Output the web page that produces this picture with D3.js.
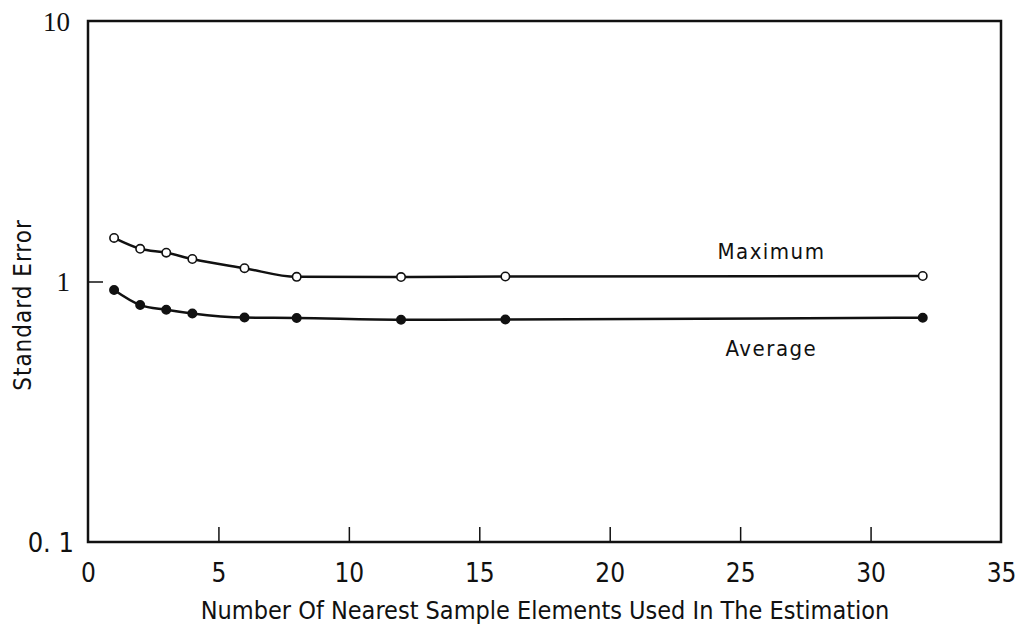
<!DOCTYPE html>
<html>
<head>
<meta charset="utf-8">
<script src="https://cdn.jsdelivr.net/npm/d3@7"></script>
<style>
  body { margin: 0; background: #fff; }
  text { font-family: "DejaVu Sans Condensed", "DejaVu Sans", sans-serif; fill: #111; }
</style>
</head>
<body>
<div id="chart"></div>
<script>
// values
const sampleCounts = [1, 2, 3, 4, 6, 8, 12, 16, 32];
const maximumError = [1.47, 1.335, 1.29, 1.22, 1.125, 1.042, 1.04, 1.045, 1.05];
const averageError = [0.927, 0.812, 0.779, 0.754, 0.727, 0.724, 0.713, 0.715, 0.726];
const xTicks = [0, 5, 10, 15, 20, 25, 30, 35];
const yTicks = [0.1, 1, 10];
const yTickLabels = ["0. 1", "1", "10"];

const width = 1020, height = 625;
const margin = { top: 21, right: 19, bottom: 83, left: 88 };
const plotW = width - margin.left - margin.right;
const plotH = height - margin.top - margin.bottom;

const svg = d3.select("#chart").append("svg")
    .attr("width", width)
    .attr("height", height);

const g = svg.append("g")
    .attr("transform", "translate(" + margin.left + "," + margin.top + ")");

const xScale = d3.scaleLinear().domain([0, 35]).range([0, plotW]);
const yScale = d3.scaleLog().domain([0.1, 10]).range([plotH, 0]);

// frame
g.append("rect")
    .attr("width", plotW)
    .attr("height", plotH)
    .attr("fill", "none")
    .attr("stroke", "#111")
    .attr("stroke-width", 2.5);

// x axis, ticks pointing in
const xAxis = g.append("g")
    .attr("transform", "translate(0," + plotH + ")")
    .call(d3.axisBottom(xScale).tickValues(xTicks).tickSize(-15).tickFormat(d3.format("d")));
xAxis.select(".domain").remove();
xAxis.selectAll(".tick line").attr("stroke", "#111").attr("stroke-width", 1.5)
    .filter(d => d === 0 || d === 35).remove();
xAxis.selectAll(".tick text")
    .attr("y", 31).attr("dy", "0.35em")
    .style("font-size", "26px");

// y axis, only the decade marks
const yAxis = g.append("g")
    .call(d3.axisLeft(yScale).tickValues(yTicks).tickSize(-15)
        .tickFormat((d, i) => yTickLabels[i]));
yAxis.select(".domain").remove();
yAxis.selectAll(".tick line").attr("stroke", "#111").attr("stroke-width", 1.5)
    .filter(d => d !== 1).remove();
yAxis.selectAll(".tick text")
    .attr("x", d => d === 0.1 ? -14 : -18).attr("dy", "0.35em")
    .style("font-size", "27px")
    .style("font-family", d => d === 0.1 ? null : "'Liberation Serif', serif");

// axis titles
svg.append("text")
    .attr("x", 545).attr("y", 619)
    .attr("text-anchor", "middle")
    .style("font-size", "25px")
    .text("Number Of Nearest Sample Elements Used In The Estimation");

svg.append("text")
    .attr("transform", "translate(31,305) rotate(-90)")
    .attr("text-anchor", "middle")
    .style("font-size", "24px")
    .style("letter-spacing", "1px")
    .text("Standard Error");

const line = d3.line()
    .x(d => xScale(d[0]))
    .y(d => yScale(d[1]))
    .curve(d3.curveMonotoneX);

const series = [
    { name: "Maximum", values: maximumError, open: true, labelDy: -17 },
    { name: "Average", values: averageError, open: false, labelDy: 38 }
];

series.forEach(s => {
    const pts = sampleCounts.map((c, i) => [c, s.values[i]]);
    g.append("path")
        .datum(pts)
        .attr("d", line)
        .attr("fill", "none")
        .attr("stroke", "#111")
        .attr("stroke-width", 2.5);

    g.selectAll(null)
        .data(pts)
        .enter().append("circle")
        .attr("cx", d => xScale(d[0]))
        .attr("cy", d => yScale(d[1]))
        .attr("r", 4.2)
        .attr("fill", s.open ? "#fff" : "#111")
        .attr("stroke", "#111")
        .attr("stroke-width", 1.6);

    g.append("text")
        .attr("x", xScale(26.2))
        .attr("y", yScale(s.values[s.values.length - 1]) + s.labelDy)
        .attr("text-anchor", "middle")
        .style("font-size", "22px")
        .style("letter-spacing", "1.5px")
        .text(s.name);
});
</script>
</body>
</html>
